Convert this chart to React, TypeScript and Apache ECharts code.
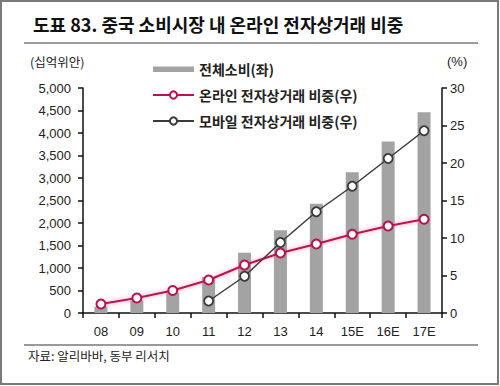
import React, { useEffect, useRef } from "react";
import * as echarts from "echarts";

const categories = ["08", "09", "10", "11", "12", "13", "14", "15E", "16E", "17E"];
const totalConsumption = [140, 280, 450, 800, 1340, 1840, 2430, 3130, 3810, 4460];
const onlineShare = [1.2, 2.0, 3.0, 4.4, 6.4, 8.0, 9.2, 10.5, 11.6, 12.5];
const mobileShare = [null, null, null, 1.6, 4.9, 9.4, 13.5, 16.9, 20.6, 24.3];
const leftTicks = { min: 0, max: 5000, interval: 500 };
const rightTicks = { min: 0, max: 30, interval: 5 };

const FONT = "'Liberation Sans', 'Noto Sans CJK KR', sans-serif";
const KFONT = "'Noto Sans CJK KR', 'Liberation Sans', sans-serif";

export default function App() {
  const ref = useRef<HTMLDivElement>(null);
  useEffect(() => {
    document.body.style.margin = "0";
    const chart = echarts.init(ref.current!, undefined, { renderer: "svg" });
    chart.setOption({
      animation: false,
      backgroundColor: "#ffffff",
      grid: { left: 83, right: 58, top: 88, bottom: 73 },
      legend: {
        orient: "vertical",
        left: 147,
        top: 57,
        itemWidth: 41,
        itemHeight: 9,
        itemGap: 12,
        textStyle: { fontFamily: KFONT, fontSize: 14, color: "#222", fontWeight: "bold" },
        data: [
          { name: "전체소비(좌)", icon: "path://M0,0L0,0M0,2L41,2L41,7.5L0,7.5ZM41,9L41,9" },
          { name: "온라인 전자상거래 비중(우)" },
          { name: "모바일 전자상거래 비중(우)" },
        ],
      },
      xAxis: {
        type: "category",
        data: categories,
        axisLine: { lineStyle: { color: "#111", width: 1.5 } },
        axisTick: { show: true, alignWithLabel: false, length: 5, inside: false, lineStyle: { color: "#111", width: 1.5 } },
        axisLabel: { fontFamily: FONT, fontSize: 13, color: "#222", margin: 12 },
      },
      yAxis: [
        {
          type: "value",
          ...leftTicks,
          position: "left",
          splitLine: { show: false },
          axisLine: { show: true, lineStyle: { color: "#111", width: 1.5 } },
          axisTick: { show: true, length: 5, lineStyle: { color: "#111", width: 1.5 } },
          axisLabel: {
            fontFamily: FONT,
            fontSize: 13,
            color: "#222",
            margin: 12,
            formatter: (v: number) => v.toLocaleString("en-US"),
          },
        },
        {
          type: "value",
          ...rightTicks,
          position: "right",
          splitLine: { show: false },
          axisLine: { show: true, lineStyle: { color: "#111", width: 1.5 } },
          axisTick: { show: true, length: 5, lineStyle: { color: "#111", width: 1.5 } },
          axisLabel: { fontFamily: FONT, fontSize: 13, color: "#222", margin: 8 },
        },
      ],
      series: [
        {
          name: "전체소비(좌)",
          type: "bar",
          data: totalConsumption,
          yAxisIndex: 0,
          barWidth: 13,
          itemStyle: { color: "#a3a3a3" },
        },
        {
          name: "온라인 전자상거래 비중(우)",
          type: "line",
          data: onlineShare,
          yAxisIndex: 1,
          symbol: "circle",
          symbolSize: 9,
          lineStyle: { color: "#b8124f", width: 2, shadowColor: "rgba(255,90,150,0.7)", shadowBlur: 4 },
          itemStyle: { color: "#ffffff", borderColor: "#b8124f", borderWidth: 2 },
          z: 3,
        },
        {
          name: "모바일 전자상거래 비중(우)",
          type: "line",
          data: mobileShare,
          yAxisIndex: 1,
          symbol: "circle",
          symbolSize: 9,
          lineStyle: { color: "#3a3a3a", width: 1.5 },
          itemStyle: { color: "#ffffff", borderColor: "#3a3a3a", borderWidth: 1.8 },
          z: 4,
        },
      ],
      graphic: [
        {
          type: "rect",
          shape: { x: 1, y: 1, width: 497, height: 383 },
          style: { fill: "none", stroke: "#7a7a7a", lineWidth: 2 },
        },
        {
          type: "text",
          left: 33,
          top: 15,
          style: { text: "도표 83. 중국 소비시장 내 온라인 전자상거래 비중", font: `bold 18px ${KFONT}`, fill: "#111" },
        },
        {
          type: "line",
          shape: { x1: 24, y1: 43, x2: 478, y2: 43 },
          style: { stroke: "#9a9a9a", lineWidth: 2 },
        },
        {
          type: "text",
          left: 30,
          top: 55,
          style: { text: "(십억위안)", font: `12.5px ${KFONT}`, fill: "#222" },
        },
        {
          type: "text",
          left: 447,
          top: 55,
          style: { text: "(%)", font: `13px ${FONT}`, fill: "#222" },
        },
        {
          type: "line",
          shape: { x1: 24, y1: 345, x2: 478, y2: 345 },
          style: { stroke: "#9a9a9a", lineWidth: 2 },
        },
        {
          type: "text",
          left: 28,
          top: 349,
          style: { text: "자료: 알리바바, 동부 리서치", font: `12.5px ${KFONT}`, fill: "#222" },
        },
      ],
    });
    return () => chart.dispose();
  }, []);
  return <div ref={ref} style={{ position: "absolute", left: 0, top: 0, width: 500, height: 386 }} />;
}
